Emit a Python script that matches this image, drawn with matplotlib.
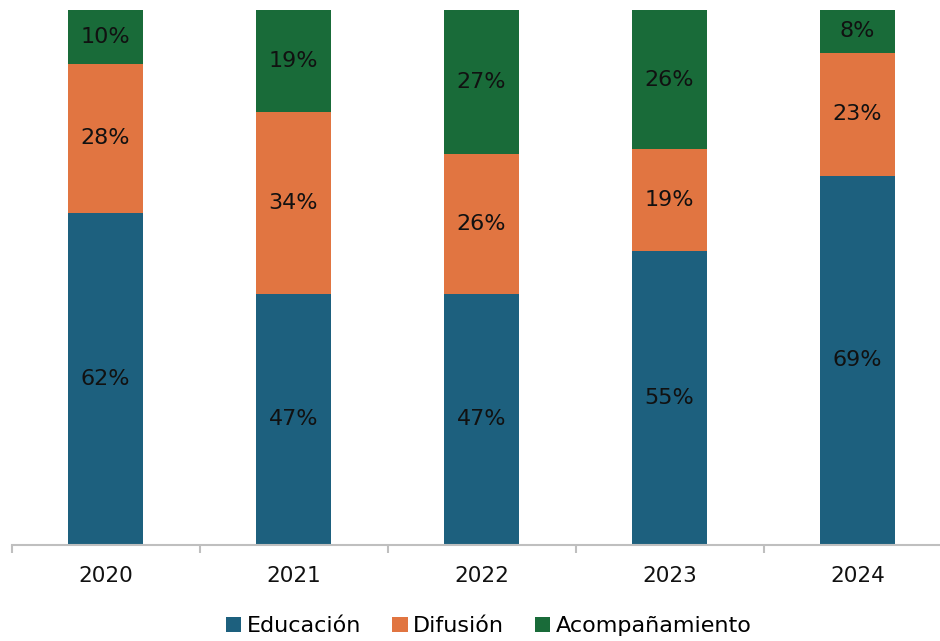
import numpy as np
import matplotlib
matplotlib.use("Agg")
import matplotlib.pyplot as plt

years = ["2020", "2021", "2022", "2023", "2024"]
educacion = [62, 47, 47, 55, 69]
difusion = [28, 34, 26, 19, 23]
acompanamiento = [10, 19, 27, 26, 8]

series_names = ["Educación", "Difusión", "Acompañamiento"]
colors = ["#1d607e", "#e17541", "#196b39"]

plt.rcParams['font.family'] = ['DejaVu Sans']

fig = plt.figure(figsize=(9.4, 6.41), dpi=100)
# axes goes a bit past the right edge, like the original
ax = fig.add_axes([11.5 / 940, 96 / 641, 940 / 940, 535 / 641])

x = np.arange(len(years))
bottom = np.zeros(len(years))
for name, vals, col in zip(series_names, [educacion, difusion, acompanamiento], colors):
    vals = np.array(vals, dtype=float)
    bars = ax.bar(x, vals, 0.4, bottom=bottom, color=col, label=name, zorder=2)
    for xi, b, v in zip(x, bottom, vals):
        ax.text(xi, b + v / 2, f"{int(v)}%", ha="center", va="center",
                fontsize=16, color="#111111")
    bottom += vals

ax.set_xlim(-0.5, len(years) - 0.5)
ax.set_ylim(0, 100)

for s in ["top", "right", "left"]:
    ax.spines[s].set_visible(False)
ax.spines["bottom"].set_color("#bfbfbf")
ax.spines["bottom"].set_linewidth(1.5)
ax.set_yticks([])

ax.set_xticks(x)
ax.set_xticklabels(years, fontsize=15.5, color="#111111")
ax.tick_params(axis="x", which="major", length=0, pad=15)
ax.set_xticks(np.arange(-0.5, len(years)), minor=True)
ax.tick_params(axis="x", which="minor", length=6, width=1.5, color="#bfbfbf", direction="out")

fig.legend(loc="center", bbox_to_anchor=(489 / 940, 15 / 641), ncol=3, frameon=False,
           fontsize=16, handlelength=0.68, handleheight=0.68, handletextpad=0.25,
           columnspacing=1.4)

fig.savefig("out.png", dpi=100)
